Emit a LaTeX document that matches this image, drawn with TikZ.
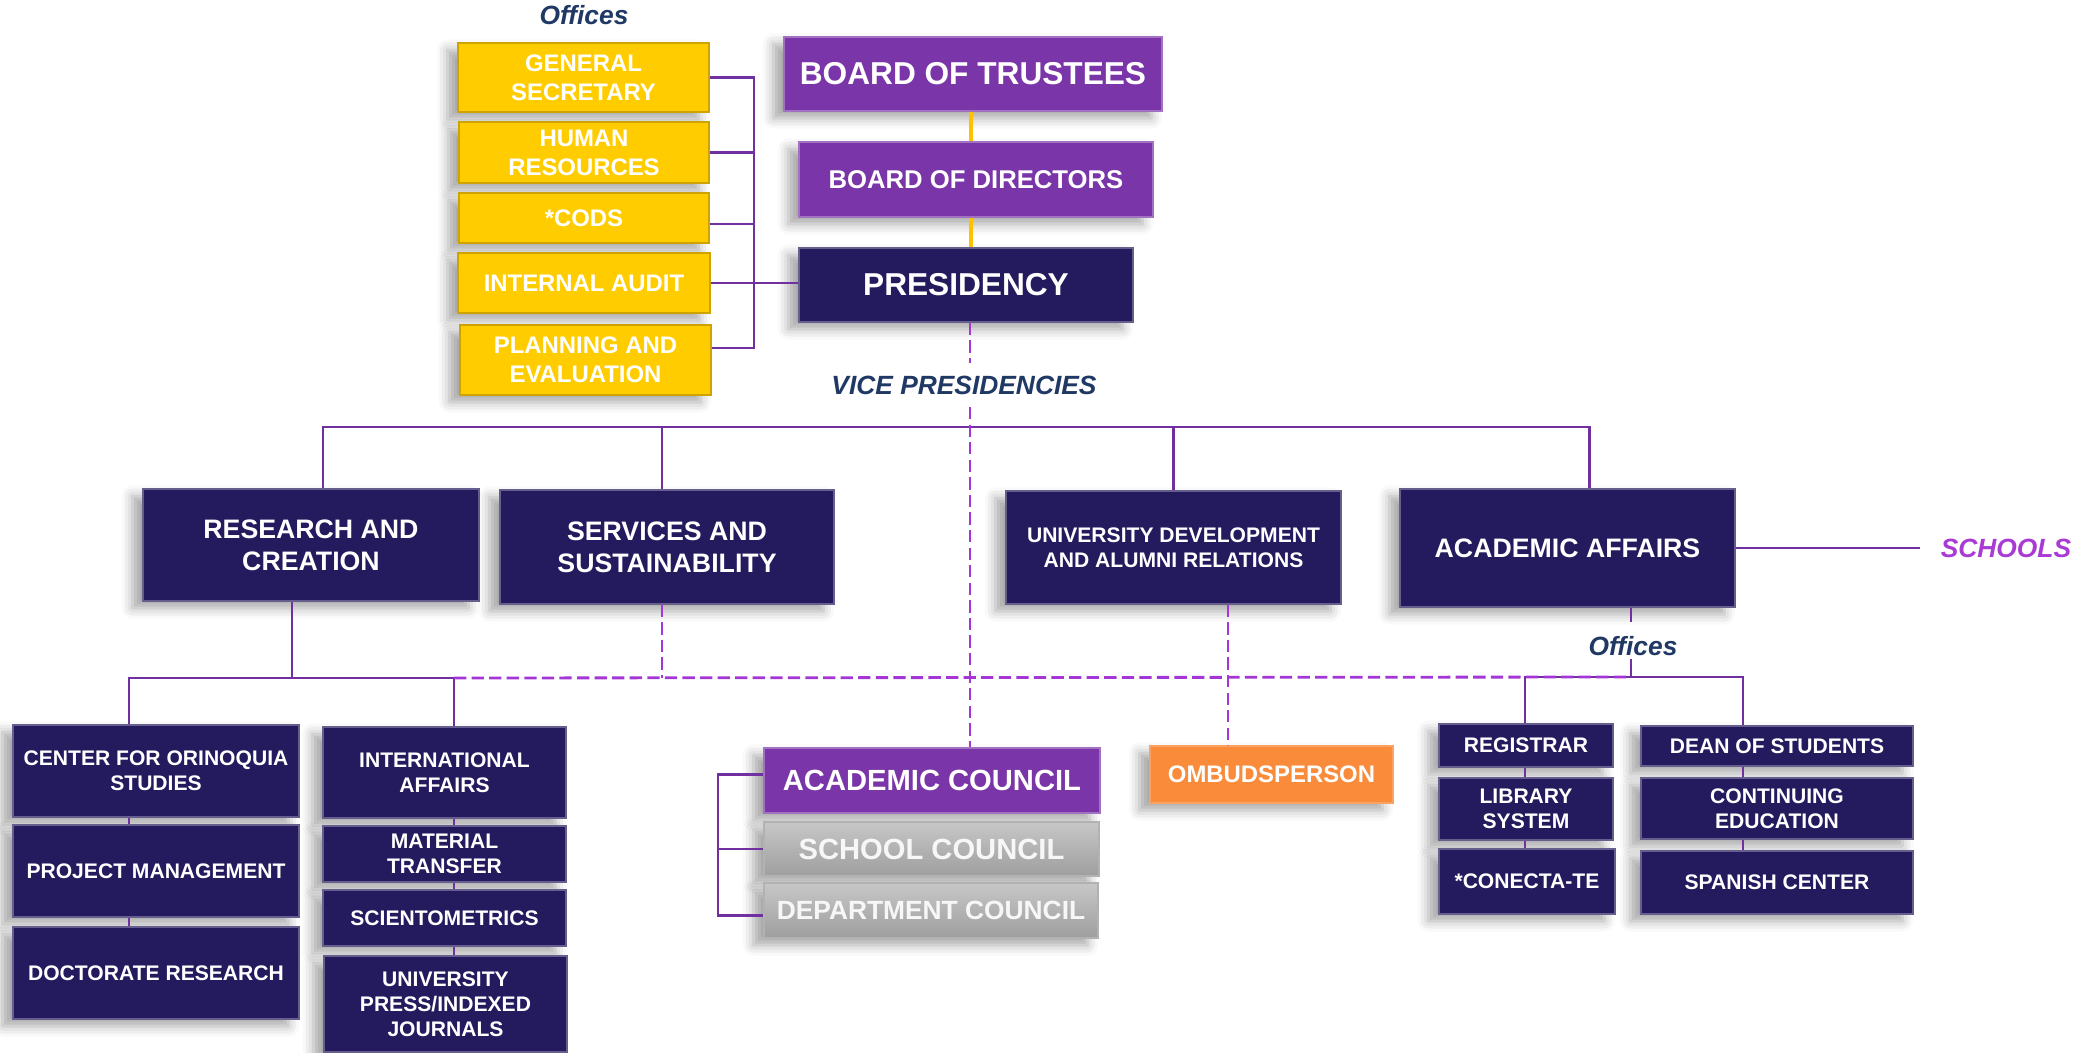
\documentclass[tikz,border=0pt]{standalone}
\usepackage{fontspec}
\setmainfont{Liberation Sans}
\usetikzlibrary{shadows.blur}
\definecolor{navy}{HTML}{241A5E}
\definecolor{royal}{HTML}{7A36A8}
\definecolor{gold}{HTML}{FFCC00}
\definecolor{orng}{HTML}{F98B3A}
\definecolor{linkc}{HTML}{7030A0}
\definecolor{dashc}{HTML}{A435D6}
\definecolor{goldline}{HTML}{FFC000}
\definecolor{tagc}{HTML}{1F3864}
\definecolor{schoolc}{HTML}{A93BD4}

\begin{document}
\begin{tikzpicture}[x=0.1mm,y=-0.1mm,
  sz/.style 2 args={minimum width=#1*0.1mm, minimum height=#2*0.1mm},
  f9/.style={font=\bfseries\fontsize{9}{10.8}\selectfont},
  f83/.style={font=\bfseries\fontsize{8.3}{10}\selectfont},
  f76/.style={font=\bfseries\fontsize{7.6}{9.1}\selectfont},
  f75/.style={font=\bfseries\fontsize{7.5}{9}\selectfont},
  f73/.style={font=\bfseries\fontsize{7.3}{8.8}\selectfont},
  f68/.style={font=\bfseries\fontsize{6.8}{8.2}\selectfont},
  f6/.style={font=\bfseries\fontsize{6}{7.1}\selectfont}]
  \tikzstyle{every node}+=[inner sep=0pt, align=center, text=white]
  \tikzstyle{unit}=[rectangle, line width=0.4pt, blur shadow={shadow xshift=-3pt, shadow yshift=-2pt, shadow blur radius=3pt, shadow opacity=35}]
  \tikzstyle{navybox}=[unit, fill=navy, draw=navy!70!white]
  \tikzstyle{purplebox}=[unit, fill=royal, draw=royal!70!white]
  \tikzstyle{goldbox}=[unit, fill=gold, draw=gold!80!black]
  \tikzstyle{orangebox}=[unit, fill=orng, draw=orng!80!white]
  \tikzstyle{graybox}=[unit, top color=black!22, bottom color=black!38, draw=black!30, text=black!3]
  \tikzstyle{tag}=[font=\bfseries\itshape\fontsize{7.5}{9}\selectfont, text=tagc, inner sep=0.3mm]
  \tikzstyle{link}=[linkc, line width=0.7pt]
  \tikzstyle{dlink}=[dashc, line width=0.8pt, dash pattern=on 3.5pt off 1.5pt]
  \tikzstyle{goldlink}=[goldline, line width=1pt]
  \useasboundingbox (0,0) rectangle (2075,1053);

  % governing bodies
  \node [purplebox, sz={378}{74}, f9] (bot) at (973,74) {BOARD OF TRUSTEES};
  \node [purplebox, sz={354}{75}, f73] (bod) at (976,179.5) {BOARD OF DIRECTORS};
  \node [navybox, sz={334}{74}, f9] (pres) at (966,285) {PRESIDENCY};
  \coordinate (gx) at (971,0);
  \draw [goldlink] (bot.south -| gx) -- (bod.north -| gx);
  \draw [goldlink] (bod.south -| gx) -- (pres.north -| gx);

  % presidency offices
  \node [tag] (offtop) at (584,15) {Offices};
  \node [goldbox, sz={251}{69}, f68] (gs) at (583.5,77.5) {GENERAL\\SECRETARY};
  \node [goldbox, sz={250}{61}, f68] (hr) at (584,152.5) {HUMAN\\RESOURCES};
  \node [goldbox, sz={250}{50}, f68] (cods) at (584,218) {*CODS};
  \node [goldbox, sz={252}{60}, f68] (ia) at (584,283) {INTERNAL AUDIT};
  \node [goldbox, sz={251}{70}, f68] (pe) at (585.5,360) {PLANNING AND\\EVALUATION};
  \coordinate (sp) at (754,0);
  \draw [link] (gs.east) -- (gs.east -| sp) -- ([yshift=1.2mm]pe.east -| sp) -- ([yshift=1.2mm]pe.east);
  \draw [link] (hr.east) -- (hr.east -| sp);
  \draw [link] ([yshift=-0.6mm]cods.east) -- ([yshift=-0.6mm]cods.east -| sp);
  \draw [link] (ia.east) -- (ia.east -| pres.west);

  % vice presidencies
  \node [tag, inner ysep=1.2mm] (vp) at (964,385) {VICE PRESIDENCIES};
  \node [navybox, sz={336}{112}, f76] (rc) at (311,545) {RESEARCH AND\\CREATION};
  \node [navybox, sz={334}{114}, f76] (ss) at (667,547) {SERVICES AND\\SUSTAINABILITY};
  \node [navybox, sz={335}{113}, f6] (udar) at (1173.5,547.5) {UNIVERSITY DEVELOPMENT\\AND ALUMNI RELATIONS};
  \node [navybox, sz={335}{118}, f76] (aa) at (1567.5,548) {ACADEMIC AFFAIRS};
  \node [tag, text=schoolc, inner xsep=2mm] (sch) at (2006,548) {SCHOOLS};
  \coordinate (vx) at (970,0);
  \coordinate (bar) at (0,427);
  \draw [link] ([xshift=1.2mm]rc.north) |- ([xshift=2.2mm]aa.north |- bar) -- ([xshift=2.2mm]aa.north);
  \draw [link] ([xshift=-0.5mm]ss.north) -- ([xshift=-0.5mm]ss.north |- bar);
  \draw [link] (udar.north) -- (udar.north |- bar);
  \draw [link] (aa.east) -- (sch.west);

  % research and creation
  \node [navybox, sz={286}{92}, f6] (cos) at (156,771) {CENTER FOR ORINOQUIA\\STUDIES};
  \node [navybox, sz={286}{92}, f6] (pm) at (156,871) {PROJECT MANAGEMENT};
  \node [navybox, sz={286}{92}, f6] (dr) at (156,973) {DOCTORATE RESEARCH};
  \node [navybox, sz={243}{91}, f6] (intl) at (444.5,772.5) {INTERNATIONAL\\AFFAIRS};
  \node [navybox, sz={243}{56}, f6] (mt) at (444.5,854) {MATERIAL\\TRANSFER};
  \node [navybox, sz={243}{56}, f6] (sci) at (444.5,918) {SCIENTOMETRICS};
  \node [navybox, sz={243}{96}, f6] (upij) at (445.5,1004) {UNIVERSITY\\PRESS/INDEXED\\JOURNALS};
  \coordinate (rbar) at (0,678);
  \coordinate (lx) at (129,0);
  \coordinate (rx) at (454,0);
  \draw [link] ([xshift=-1.9mm]rc.south) -- ([xshift=-1.9mm]rc.south |- rbar);
  \draw [link] (cos.north -| lx) -- (lx |- rbar) -- (rx |- rbar) -- (intl.north -| rx);
  \draw [link] (cos.south -| lx) -- (pm.north -| lx);
  \draw [link] (pm.south -| lx) -- (dr.north -| lx);
  \draw [link] (intl.south -| rx) -- (mt.north -| rx);
  \draw [link] (mt.south -| rx) -- (sci.north -| rx);
  \draw [link] (sci.south -| rx) -- (upij.north -| rx);

  % councils
  \node [purplebox, sz={336}{65}, f83] (acc) at (932,780.5) {ACADEMIC COUNCIL};
  \node [graybox, sz={335}{54}, f83] (scc) at (931.5,849) {SCHOOL COUNCIL};
  \node [graybox, sz={334}{55}, f75] (dcc) at (931,910.5) {DEPARTMENT COUNCIL};
  \coordinate (cx) at (718,0);
  \draw [link] ([yshift=0.6mm]acc.west) -- ([yshift=0.6mm]acc.west -| cx) -- ([yshift=-0.5mm]dcc.west -| cx) -- ([yshift=-0.5mm]dcc.west);
  \draw [link] (scc.west) -- (scc.west -| cx);

  % ombudsperson
  \node [orangebox, sz={243}{57}, f68] (omb) at (1271.5,774.5) {OMBUDSPERSON};
  \coordinate (ux) at (1228,0);

  % academic affairs offices
  \node [tag] (offaa) at (1633,646) {Offices};
  \node [navybox, sz={174}{43}, f6] (reg) at (1526,745.5) {REGISTRAR};
  \node [navybox, sz={174}{62}, f6] (lib) at (1526,809) {LIBRARY\\SYSTEM};
  \node [navybox, sz={176}{65}, f6] (con) at (1527,881.5) {*CONECTA-TE};
  \node [navybox, sz={272}{40}, f6] (dean) at (1777,746) {DEAN OF STUDENTS};
  \node [navybox, sz={272}{61}, f6] (ce) at (1777,808.5) {CONTINUING\\EDUCATION};
  \node [navybox, sz={272}{63}, f6] (sc) at (1777,882.5) {SPANISH CENTER};
  \coordinate (ox) at (1631,0);
  \coordinate (abar) at (0,677);
  \coordinate (ax) at (1525,0);
  \coordinate (bx) at (1743,0);
  \draw [link] (aa.south -| ox) -- ([yshift=1.1mm]offaa.north -| ox);
  \draw [link] (offaa.south -| ox) -- (ox |- abar);
  \draw [link] (reg.north -| ax) -- (ax |- abar) -- (bx |- abar) -- (dean.north -| bx);
  \draw [link] (reg.south -| ax) -- (lib.north -| ax);
  \draw [link] (lib.south -| ax) -- (con.north -| ax);
  \draw [link] (dean.south -| bx) -- (ce.north -| bx);
  \draw [link] (ce.south -| bx) -- (sc.north -| bx);

  % dashed links
  \draw [dlink] (pres.south -| vx) -- (vp.north -| vx);
  \draw [dlink] (vp.south -| vx) -- (acc.north -| vx);
  \draw [dlink] (rx |- rbar) -- (ox |- abar);
  \draw [dlink] ([xshift=-0.5mm]ss.south) -- ([xshift=-0.5mm]ss.south |- rbar);
  \draw [dlink] (udar.south -| ux) -- (omb.north -| ux);
\end{tikzpicture}
\end{document}
